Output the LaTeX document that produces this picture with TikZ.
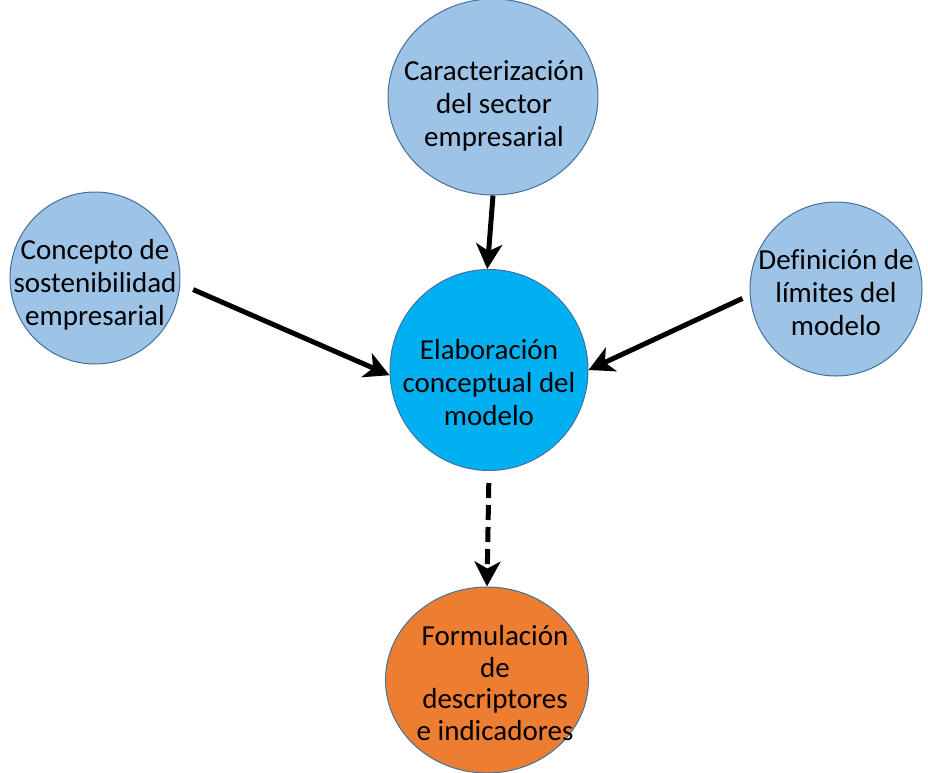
\documentclass[tikz,border=0pt]{standalone}
\usepackage{fontspec}
\setmainfont[Ligatures=NoCommon]{Carlito}
\usetikzlibrary{shapes.geometric,arrows.meta}
\definecolor{paleblue}{HTML}{9DC3E6}
\definecolor{brightblue}{HTML}{00B0F0}
\definecolor{orangefill}{HTML}{ED7D31}
\definecolor{rimblue}{HTML}{41719C}
\tikzset{
  bubble/.style={ellipse, draw=rimblue, line width=1pt, inner sep=0pt},
  caption/.style={anchor=base, align=center, inner sep=0pt, text=black,
    font=\fontsize{29}{33}\selectfont},
  flow/.style={line width=5pt, -{Stealth[length=25pt,width=26pt,inset=7pt]}},
}
\begin{document}
\begin{tikzpicture}[x=1pt,y=-1pt]
\useasboundingbox (0,0) rectangle (928,772);

% bubbles
\node[bubble, fill=paleblue, minimum width=210pt, minimum height=196pt] (sector) at (493,97) {};
\node[bubble, fill=paleblue, minimum width=170pt, minimum height=172pt] (sost) at (95,278) {};
\node[bubble, fill=paleblue, minimum width=172pt, minimum height=174pt] (limites) at (836,289) {};
\node[bubble, fill=brightblue, minimum width=198pt, minimum height=201pt] (modelo) at (489,370) {};
\node[bubble, fill=orangefill, minimum width=203pt, minimum height=186pt] (formul) at (487,680) {};

% texts, placed by the baseline of their last line
\node[caption] (tsector) at (494,146) {Caracterización\\del sector\\empresarial};
\node[caption] (tsost) at (95,325) {Concepto de\\sostenibilidad\\empresarial};
\node[caption] (tlimites) at (836,335) {Definición de\\límites del\\modelo};
\node[caption] (tmodelo) at (489,425) {Elaboración\\conceptual del\\modelo};
\node[caption, font=\fontsize{29}{31.5}\selectfont] (tformul) at (495,740) {Formulación\\de\\descriptores\\e indicadores};

% connectors
\draw[flow] (sector.south) -- (modelo.91);
\draw[flow, shorten <=14pt] (sost.-4) -- (modelo.183);
\draw[flow, shorten <=8pt] (limites.184) -- (modelo.0);
\draw[flow, dash pattern=on 15pt off 7pt, shorten <=12pt] (modelo.south) -- (formul.north);
\end{tikzpicture}
\end{document}
